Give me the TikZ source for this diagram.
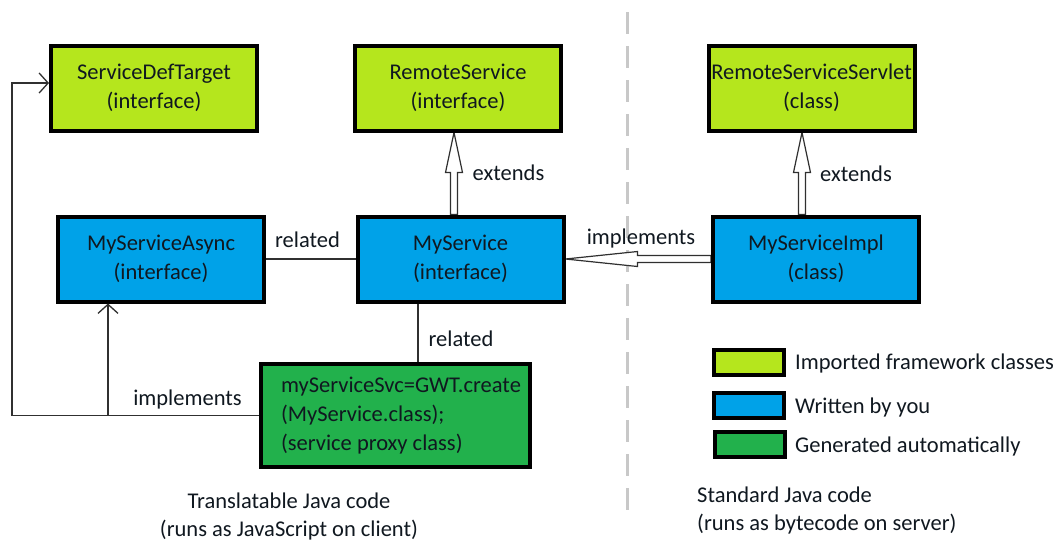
\documentclass[tikz,border=0pt]{standalone}
\usepackage{fontspec}
\setmainfont{Carlito}
\usetikzlibrary{arrows.meta,calc,backgrounds}
\definecolor{limeg}{HTML}{B5E61D}
\definecolor{wblue}{HTML}{00A2E8}
\definecolor{gengreen}{HTML}{22B14C}
\definecolor{ln}{HTML}{303030}
\definecolor{divgray}{HTML}{C8C8C8}
\definecolor{txt}{HTML}{101820}
\begin{document}
\begin{tikzpicture}[x=1pt,y=-1pt,
  box/.style={draw=black,line width=4pt,minimum width=206pt,minimum height=85pt,inner sep=0pt,align=center,text=txt,font=\fontsize{22.5}{29}\selectfont},
  leg/.style={draw=black,line width=4pt,minimum width=70pt,minimum height=25pt,inner sep=0pt},
  lbl/.style={font=\fontsize{22.5}{28}\selectfont,inner sep=0pt,text=txt},
  conn/.style={draw=ln,line width=1.5pt},
  openarrow/.style={conn,-{Straight Barb[length=9pt,width=20pt,line width=1.3pt]}},
  hollow/.style={draw=ln,line width=1.2pt,fill=white,line join=miter},
  divider/.style={draw=divgray,line width=3pt,dash pattern=on 22pt off 12pt}
]
\useasboundingbox (0,0) rectangle (1058,542);

% class boxes
\node[box,fill=limeg] (sdt) at (154,88) {ServiceDefTarget\\(interface)};
\node[box,fill=limeg] (rs) at (458,88) {RemoteService\\(interface)};
\node[box,fill=limeg] (rss) at (811.5,88) {RemoteServiceServlet\\(class)};
\node[box,fill=wblue] (msa) at (161,259) {MyServiceAsync\\(interface)};
\node[box,fill=wblue] (ms) at (460.5,259) {MyService\\(interface)};
\node[box,fill=wblue] (msi) at (816,259) {MyServiceImpl\\(class)};
\node[box,fill=gengreen,minimum width=269pt,minimum height=103pt,text width=229pt,inner xsep=20pt,align=flush left] (gen) at (395.5,415.5) {myServiceSvc=GWT.create\\(MyService.class);\\(service proxy class)};

% legend
\node[leg,fill=limeg] (l1) at (748.5,362.5) {};
\node[leg,fill=wblue] (l2) at (749,405) {};
\node[leg,fill=gengreen] (l3) at (750,444) {};
\node[lbl,anchor=west] (t1) at (795,363) {Imported framework classes};
\node[lbl,anchor=west] (t2) at (795,407) {Written by you};
\node[lbl,anchor=west] (t3) at (795,446) {Generated automatically};

% background: divider and hollow arrows
\begin{scope}[on background layer]
  \fill[white] (0,0) rectangle (1058,542);
  \draw[divider] (627,12) -- (627,515);
  \draw[hollow] let \p1=($(rs.south)+(-4,0)$), \p2=(ms.north) in
    (\x1,\y1) -- (\x1+8.5pt,\y1-40pt) -- (\x1+3.5pt,\y1-40pt) -- (\x1+3.5pt,\y2)
    -- (\x1-3.5pt,\y2) -- (\x1-3.5pt,\y1-40pt) -- (\x1-8.5pt,\y1-40pt) -- cycle;
  \draw[hollow] let \p1=($(rss.south)+(-9.5,0)$), \p2=(msi.north) in
    (\x1,\y1) -- (\x1+8.5pt,\y1-40pt) -- (\x1+3.5pt,\y1-40pt) -- (\x1+3.5pt,\y2)
    -- (\x1-3.5pt,\y2) -- (\x1-3.5pt,\y1-40pt) -- (\x1-8.5pt,\y1-40pt) -- cycle;
  \draw[hollow] let \p1=(ms.east), \p2=(msi.west) in
    (\x1,\y1) -- (\x1+72pt,\y1+7.5pt) -- (\x1+72pt,\y1+3.5pt) -- (\x2,\y1+3.5pt)
    -- (\x2,\y1-3.5pt) -- (\x1+72pt,\y1-3.5pt) -- (\x1+72pt,\y1-7.5pt) -- cycle;
\end{scope}

% thin connectors
\draw[conn] (msa.east) -- (ms.west);
\coordinate (rx) at (418,0);
\draw[conn] (ms.south -| rx) -- (gen.north -| rx);
\coordinate (lc) at (12,83);
\draw[openarrow] (gen.west) -| (lc) -- (lc -| sdt.west);
\coordinate (ix) at (108,0);
\draw[openarrow] (gen.west -| ix) -- (msa.south -| ix);

% labels
\node[lbl] (rel1) at (307.5,240) {related};
\node[lbl] (rel2) at (461,339) {related};
\node[lbl] (imp1) at (187.5,399) {implements};
\node[lbl] (imp2) at (641,238) {implements};
\node[lbl] (ext1) at (508.5,173) {extends};
\node[lbl] (ext2) at (856,174) {extends};

% region captions
\node[lbl,align=center] (cl) at (289,516) {Translatable Java code\\(runs as JavaScript on client)};
\node[lbl,align=left,anchor=west] (sv) at (697,510) {Standard Java code\\(runs as bytecode on server)};
\end{tikzpicture}
\end{document}
